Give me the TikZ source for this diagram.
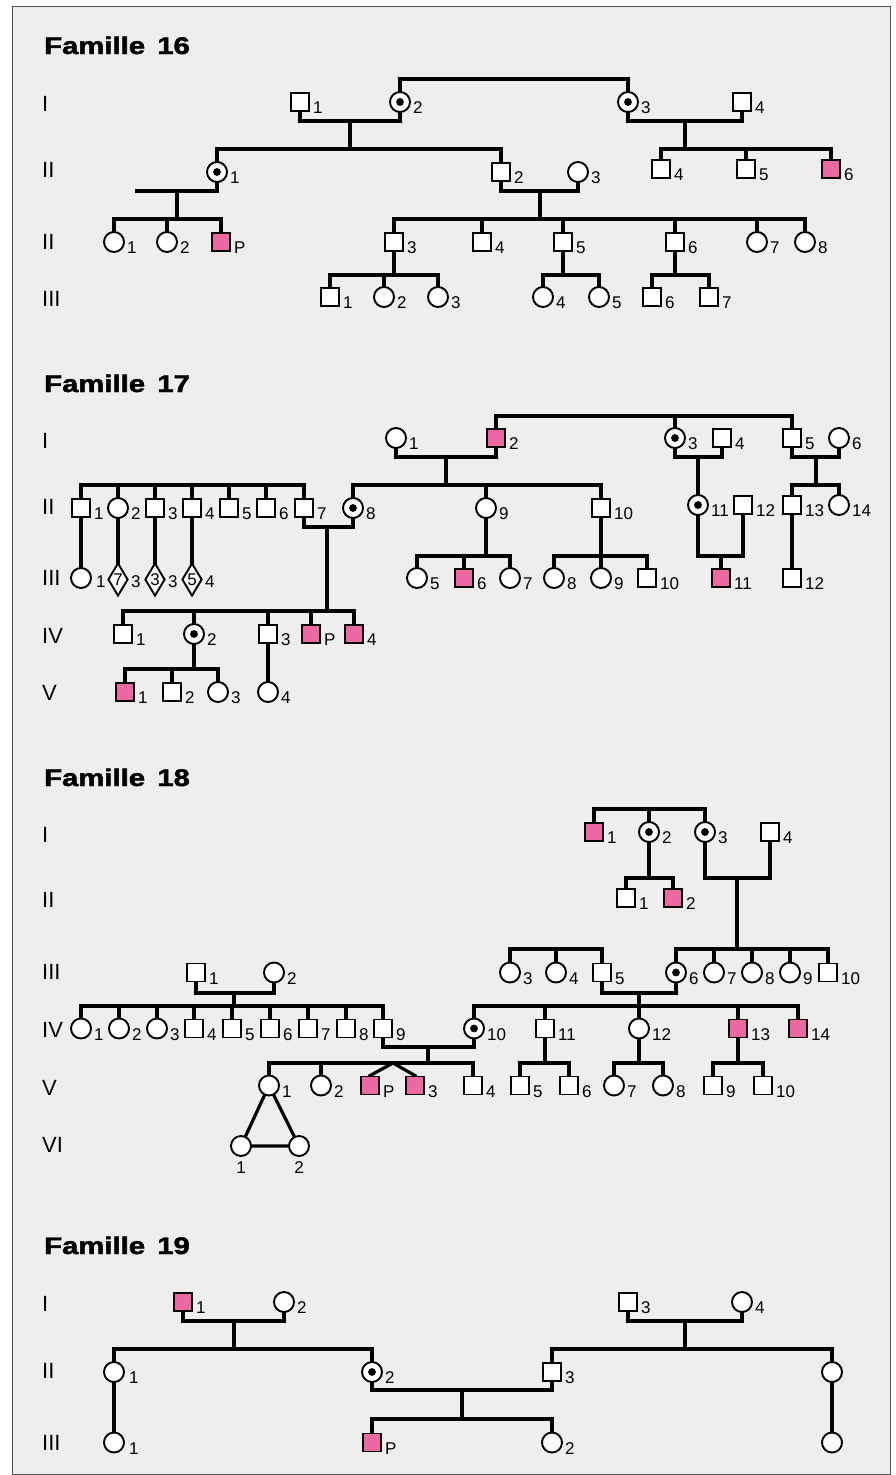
\documentclass[tikz,border=0pt]{standalone}
\usepackage{fontspec}
\setmainfont{Liberation Sans}
\newfontfamily\titlefont{Liberation Sans}[BoldFeatures={FakeBold=1.8}]
\usepackage{graphicx}
\usetikzlibrary{shapes.geometric}
\definecolor{aff}{RGB}{236,104,160}
\definecolor{panel}{RGB}{238,238,238}
\definecolor{framec}{RGB}{80,80,80}
\pgfdeclarelayer{bg}\pgfdeclarelayer{lines}\pgfsetlayers{bg,lines,main}
\newcommand\lbfont{\fontsize{17}{17}\selectfont}
\newcommand\Pn[5]{\node[#1] (#2) at (#3,#4) {}; \node[lab] (#2l) at ([shift={(13,11.5)}]#2.center) {#5};}
\newcommand\Po[7]{\node[#1] (#2) at (#3,#4) {}; \node[lab] (#2l) at ([shift={(#6,#7)}]#2.center) {#5};}
\newcommand\Pc[3]{\draw[ln] (#1.center) -- (#1.center|-0,#3) -- (#2.center|-0,#3) -- (#2.center);}
\newcommand\Pv[2]{\draw[ln] (#1.center) -- (#1.center|-0,#2);}
\newcommand\Pd[4]{\coordinate (#1) at (#2,#3); \draw[ln] (#1) -- (#1|-0,#4);}
\tikzset{
  sym/.style={draw, line width=1.9pt, fill=white, inner sep=0pt},
  ms/.style={sym, rectangle, minimum size=18pt},
  ma/.style={ms, fill=aff},
  fs/.style={sym, circle, minimum size=20pt},
  fc/.style={fs, path picture={\fill[black] (path picture bounding box.center) circle (3.9pt);}},
  ds/.style={sym, diamond, aspect=0.6, minimum width=20pt, minimum height=33pt, font=\lbfont},
  lab/.style={font=\lbfont, inner sep=0pt, anchor=base west},
  gen/.style={font=\fontsize{22}{22}\selectfont, inner sep=0pt, anchor=base west},
  ttl/.style={inner sep=0pt, anchor=base west},
  ln/.style={line width=3.2pt, line cap=rect, line join=miter}
}
\newcommand\Ttl[1]{\titlefont\fontsize{24}{24}\selectfont\bfseries\scalebox{1.22}[1]{Famille\hspace{10pt}#1}}
\begin{document}
\begin{tikzpicture}[x=1pt,y=-1pt]
\useasboundingbox (0,0) rectangle (896,1475);
\begin{pgfonlayer}{bg}
\fill[white] (0,0) rectangle (896,1475);
\draw[framec, fill=panel, line width=1pt] (12.5,6.5) rectangle (890.5,1474.5);
\end{pgfonlayer}

% ================= Famille 16 =================
\node[ttl] (t16) at (44,54) {\Ttl{16}};
\node[gen] (g16a) at (42,111) {I};
\node[gen] (g16b) at (42,177) {II};
\node[gen] (g16c) at (42,249) {II};
\node[gen] (g16d) at (42,306) {III};

\Pn{ms}{A1}{300}{102}{1}
\Pn{fc}{A2}{400}{102}{2}
\Pn{fc}{A3}{628}{102}{3}
\Pn{ms}{A4}{742}{102}{4}

\Pn{fc}{B1}{217}{172}{1}
\Pn{ms}{B2}{501}{172}{2}
\Pn{fs}{B3}{578}{172}{3}
\Pn{ms}{B4}{661}{169}{4}
\Pn{ms}{B5}{746}{169}{5}
\Pn{ma}{B6}{831}{169}{6}

\Pn{fs}{C1}{114}{242}{1}
\Pn{fs}{C2}{167}{242}{2}
\Pn{ma}{CP}{221}{242}{P}
\Pn{ms}{C3}{394}{242}{3}
\Pn{ms}{C4}{482}{242}{4}
\Pn{ms}{C5}{563}{242}{5}
\Pn{ms}{C6}{675}{242}{6}
\Pn{fs}{C7}{757}{242}{7}
\Pn{fs}{C8}{805}{242}{8}

\Pn{ms}{D1}{330}{297}{1}
\Pn{fs}{D2}{384}{297}{2}
\Pn{fs}{D3}{438}{297}{3}
\Pn{fs}{D4}{543}{297}{4}
\Pn{fs}{D5}{599}{297}{5}
\Pn{ms}{D6}{652}{297}{6}
\Pn{ms}{D7}{709}{297}{7}

% ================= Famille 17 =================
\node[ttl] (t17) at (44,392) {\Ttl{17}};
\node[gen] (g17a) at (42,448) {I};
\node[gen] (g17b) at (42,514) {II};
\node[gen] (g17c) at (42,585) {III};
\node[gen] (g17d) at (42,643) {IV};
\node[gen] (g17e) at (42,700) {V};

\Pn{fs}{E1}{396}{438}{1}
\Pn{ma}{E2}{496}{438}{2}
\Pn{fc}{E3}{675}{438}{3}
\Pn{ms}{E4}{722}{438}{4}
\Pn{ms}{E5}{792}{438}{5}
\Pn{fs}{E6}{839}{438}{6}

\Pn{ms}{F1}{81}{508}{1}
\Pn{fs}{F2}{118}{508}{2}
\Pn{ms}{F3}{155}{508}{3}
\Pn{ms}{F4}{192}{508}{4}
\Pn{ms}{F5}{229}{508}{5}
\Pn{ms}{F6}{266}{508}{6}
\Pn{ms}{F7}{304}{508}{7}
\Pn{fc}{F8}{353}{508}{8}
\Pn{fs}{F9}{486}{508}{9}
\Pn{ms}{F10}{601}{508}{10}
\Pn{fc}{F11}{698}{505}{11}
\Pn{ms}{F12}{743}{505}{12}
\Pn{ms}{F13}{792}{505}{13}
\Pn{fs}{F14}{839}{505}{14}

\Po{fs}{G1}{81}{578}{1}{15}{9}
\node[ds] (G2) at (118,579.5) {7};
\node[lab] (G2l) at ([shift={(13,8)}]G2.center) {3};
\node[ds] (G3) at (155,579.5) {3};
\node[lab] (G3l) at ([shift={(13,8)}]G3.center) {3};
\node[ds] (G4) at (192,579.5) {5};
\node[lab] (G4l) at ([shift={(13,8)}]G4.center) {4};
\Pn{fs}{G5}{417}{578}{5}
\Pn{ma}{G6}{464}{578}{6}
\Pn{fs}{G7}{510}{578}{7}
\Pn{fs}{G8}{554}{578}{8}
\Pn{fs}{G9}{601}{578}{9}
\Pn{ms}{G10}{647}{578}{10}
\Pn{ma}{G11}{721}{578}{11}
\Pn{ms}{G12}{792}{578}{12}

\Pn{ms}{H1}{123}{634}{1}
\Pn{fc}{H2}{194}{634}{2}
\Pn{ms}{H3}{268}{634}{3}
\Pn{ma}{HP}{311}{634}{P}
\Pn{ma}{H4}{354}{634}{4}

\Pn{ma}{K1}{125}{692}{1}
\Pn{ms}{K2}{172}{692}{2}
\Pn{fs}{K3}{218}{692}{3}
\Pn{fs}{K4}{268}{692}{4}

% ================= Famille 18 =================
\node[ttl] (t18) at (44,786) {\Ttl{18}};
\node[gen] (g18a) at (42,842) {I};
\node[gen] (g18b) at (42,907) {II};
\node[gen] (g18c) at (42,979) {III};
\node[gen] (g18d) at (42,1037) {IV};
\node[gen] (g18e) at (42,1095) {V};
\node[gen] (g18f) at (42,1152) {VI};

\Pn{ma}{L1}{594}{832}{1}
\Pn{fc}{L2}{649}{832}{2}
\Pn{fc}{L3}{705}{832}{3}
\Pn{ms}{L4}{770}{832}{4}

\Pn{ms}{M1}{626}{898}{1}
\Pn{ma}{M2}{673}{898}{2}

\Pn{ms}{N1}{196}{972.5}{1}
\Pn{fs}{N2}{274}{972.5}{2}
\Pn{fs}{N3}{510}{972.5}{3}
\Pn{fs}{N4}{556}{972.5}{4}
\Pn{ms}{N5}{602}{972.5}{5}
\Pn{fc}{N6}{676}{972.5}{6}
\Pn{fs}{N7}{714}{972.5}{7}
\Pn{fs}{N8}{752}{972.5}{8}
\Pn{fs}{N9}{790}{972.5}{9}
\Pn{ms}{N10}{828}{972.5}{10}

\Pn{fs}{O1}{81}{1028.5}{1}
\Pn{fs}{O2}{119}{1028.5}{2}
\Pn{fs}{O3}{157}{1028.5}{3}
\Pn{ms}{O4}{194}{1028.5}{4}
\Pn{ms}{O5}{232}{1028.5}{5}
\Pn{ms}{O6}{270}{1028.5}{6}
\Pn{ms}{O7}{308}{1028.5}{7}
\Pn{ms}{O8}{346}{1028.5}{8}
\Pn{ms}{O9}{383}{1028.5}{9}
\Pn{fc}{O10}{474}{1028.5}{10}
\Pn{ms}{O11}{545}{1028.5}{11}
\Pn{fs}{O12}{639}{1028.5}{12}
\Pn{ma}{O13}{738}{1028.5}{13}
\Pn{ma}{O14}{798}{1028.5}{14}

\Pn{fs}{Q1}{269}{1085.5}{1}
\Pn{fs}{Q2}{321}{1085.5}{2}
\Pn{ma}{QP}{370}{1085.5}{P}
\Pn{ma}{Q3}{415}{1085.5}{3}
\Pn{ms}{Q4}{473}{1085.5}{4}
\Pn{ms}{Q5}{520}{1085.5}{5}
\Pn{ms}{Q6}{569}{1085.5}{6}
\Pn{fs}{Q7}{614}{1085.5}{7}
\Pn{fs}{Q8}{663}{1085.5}{8}
\Pn{ms}{Q9}{713}{1085.5}{9}
\Pn{ms}{Q10}{763}{1085.5}{10}

\node[fs] (R1) at (241,1146) {};
\node[font=\lbfont, inner sep=0pt, anchor=base] (R1l) at (241,1173) {1};
\node[fs] (R2) at (299,1146) {};
\node[font=\lbfont, inner sep=0pt, anchor=base] (R2l) at (299,1173) {2};

% ================= Famille 19 =================
\node[ttl] (t19) at (44,1254) {\Ttl{19}};
\node[gen] (g19a) at (42,1311) {I};
\node[gen] (g19b) at (42,1378) {II};
\node[gen] (g19c) at (42,1450) {III};

\Pn{ma}{S1}{183}{1302}{1}
\Pn{fs}{S2}{284}{1302}{2}
\Pn{ms}{S3}{628}{1302}{3}
\Pn{fs}{S4}{742}{1302}{4}

\Po{fs}{T1}{114}{1372}{1}{15}{11.5}
\Pn{fc}{T2}{372}{1372}{2}
\Pn{ms}{T3}{552}{1372}{3}
\node[fs] (T4) at (832,1372) {};

\Po{fs}{U1}{114}{1442.5}{1}{15}{11.5}
\Pn{ma}{UP}{372}{1442.5}{P}
\Pn{fs}{U2}{552}{1442.5}{2}
\node[fs] (U4) at (832,1442.5) {};

% ================= connectors =================
\begin{pgfonlayer}{lines}
% Famille 16
\Pc{A2}{A3}{79}
\Pc{A1}{A2}{121}
\Pd{m16a}{350}{121}{149}
\Pc{B1}{B2}{149}
\Pc{A3}{A4}{121}
\Pd{m16b}{685}{121}{149}
\Pc{B4}{B6}{149}
\Pv{B5}{149}
\Pc{B2}{B3}{191}
\Pd{m16c}{540}{191}{219}
\coordinate (sp16) at (137,191);
\draw[ln] (B1.center) -- (B1.center|-sp16) -- (sp16);
\Pd{m16d}{177}{191}{219}
\Pc{C1}{CP}{219}
\Pv{C2}{219}
\Pc{C3}{C8}{219}
\Pv{C4}{219}\Pv{C5}{219}\Pv{C6}{219}\Pv{C7}{219}
\Pv{C3}{275}
\Pc{D1}{D3}{275}
\Pv{D2}{275}
\Pv{C5}{275}
\Pc{D4}{D5}{275}
\Pv{C6}{275}
\Pc{D6}{D7}{275}
% Famille 17
\Pc{E2}{E5}{416}
\Pv{E3}{416}
\Pc{E1}{E2}{457}
\Pd{m17a}{446}{457}{485}
\Pc{F8}{F10}{485}
\Pv{F9}{485}
\Pc{F1}{F7}{485}
\Pv{F2}{485}\Pv{F3}{485}\Pv{F4}{485}\Pv{F5}{485}\Pv{F6}{485}
\Pc{E3}{E4}{457}
\coordinate (m17b) at (698,457);
\draw[ln] (m17b) -- (F11.center);
\Pc{E5}{E6}{457}
\Pd{m17c}{816}{457}{485}
\Pc{F13}{F14}{485}
\Pc{F7}{F8}{527}
\Pd{m17d}{327}{527}{611}
\Pc{H1}{H4}{611}
\Pv{H2}{611}\Pv{H3}{611}\Pv{HP}{611}
\draw[ln] (F1.center) -- (G1.center);
\draw[ln] (F2.center) -- (G2.center);
\draw[ln] (F3.center) -- (G3.center);
\draw[ln] (F4.center) -- (G4.center);
\Pv{F9}{556}
\Pc{G5}{G7}{556}
\Pv{G6}{556}
\Pv{F10}{556}
\Pc{G8}{G10}{556}
\Pv{G9}{556}
\Pc{F11}{F12}{556}
\draw[ln] (G11.center) -- (G11.center|-0,556);
\draw[ln] (F13.center) -- (G12.center);
\Pv{H2}{669}
\Pc{K1}{K3}{669}
\Pv{K2}{669}
\draw[ln] (H3.center) -- (K4.center);
% Famille 18
\Pc{L1}{L3}{809}
\Pv{L2}{809}
\Pv{L2}{878}
\Pc{M1}{M2}{878}
\Pc{L3}{L4}{878}
\Pd{m18a}{737}{878}{949}
\Pc{N6}{N10}{949}
\Pv{N7}{949}\Pv{N8}{949}\Pv{N9}{949}
\Pc{N3}{N5}{949}
\Pv{N4}{949}
\Pc{N5}{N6}{993}
\Pd{m18b}{639}{993}{1006}
\Pc{O10}{O14}{1006}
\Pv{O11}{1006}\Pv{O12}{1006}\Pv{O13}{1006}
\Pc{N1}{N2}{993}
\Pd{m18c}{234}{993}{1006}
\Pc{O1}{O9}{1006}
\Pv{O2}{1006}\Pv{O3}{1006}\Pv{O4}{1006}\Pv{O5}{1006}\Pv{O6}{1006}\Pv{O7}{1006}\Pv{O8}{1006}
\Pc{O9}{O10}{1047}
\Pd{m18d}{428}{1047}{1063}
\Pc{Q1}{Q4}{1063}
\Pv{Q2}{1063}
\coordinate (tw) at (393,1063);
\draw[ln] (tw) -- (QP.north);
\draw[ln] (tw) -- (Q3.north);
\Pv{O11}{1063}
\Pc{Q5}{Q6}{1063}
\Pv{O12}{1063}
\Pc{Q7}{Q8}{1063}
\Pv{O13}{1063}
\Pc{Q9}{Q10}{1063}
\draw[ln] (Q1.center) -- (R1.center) -- (R2.center) -- cycle;
% Famille 19
\Pc{S1}{S2}{1321}
\Pd{m19a}{234}{1321}{1349}
\Pc{T1}{T2}{1349}
\Pc{S3}{S4}{1321}
\Pd{m19b}{685}{1321}{1349}
\Pc{T3}{T4}{1349}
\Pc{T2}{T3}{1390}
\Pd{m19c}{462}{1390}{1419}
\Pc{UP}{U2}{1419}
\draw[ln] (T1.center) -- (U1.center);
\draw[ln] (T4.center) -- (U4.center);
\end{pgfonlayer}
\end{tikzpicture}
\end{document}
